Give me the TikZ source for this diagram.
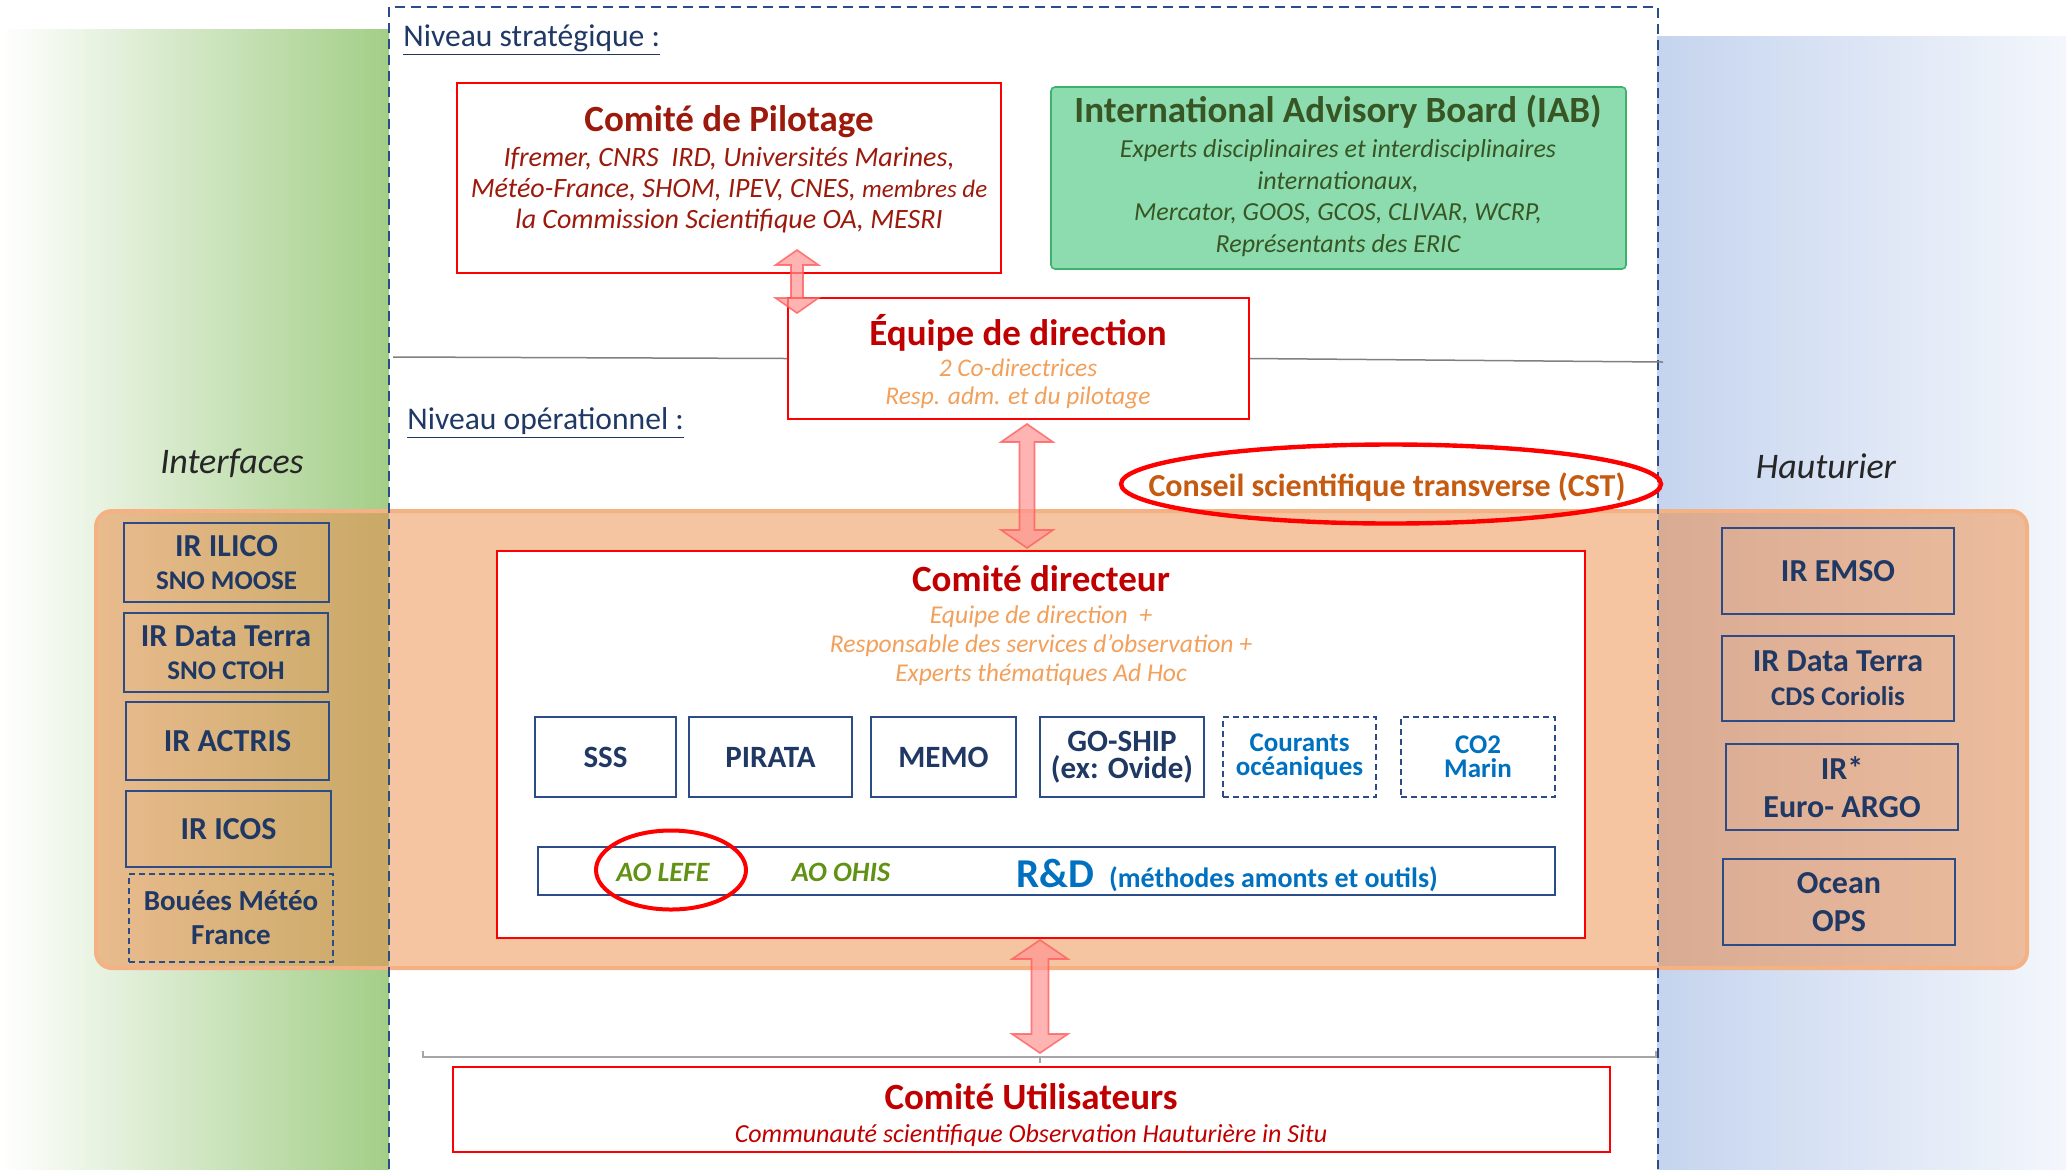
\documentclass[tikz,border=0pt]{standalone}
\usepackage{fontspec}
\setmainfont{Carlito}
\usetikzlibrary{calc,shapes.geometric}

\definecolor{navy}{HTML}{1F3864}
\definecolor{boxnavy}{HTML}{2B4C86}
\definecolor{pilred}{HTML}{9C1A0C}
\definecolor{dred}{HTML}{C00000}
\definecolor{orsub}{HTML}{F2A05A}
\definecolor{cstor}{HTML}{C55A11}
\definecolor{iabfill}{HTML}{8DDCB0}
\definecolor{iabdraw}{HTML}{3DB26B}
\definecolor{iabtxt}{HTML}{375623}
\definecolor{aogreen}{HTML}{619214}
\definecolor{rdblue}{HTML}{0070C0}
\definecolor{bandor}{HTML}{F4B183}
\definecolor{bandC}{HTML}{F5C4A0}
\definecolor{bandLa}{HTML}{E9BB8E}
\definecolor{bandLb}{HTML}{C9A966}
\definecolor{bandRa}{HTML}{D8AB93}
\definecolor{bandRb}{HTML}{EDBC9D}
\definecolor{gleft}{HTML}{A3CE87}
\definecolor{bright}{HTML}{C5D4EE}
\definecolor{arrowfill}{HTML}{FF9494}
\definecolor{arrowdraw}{HTML}{FF5E5E}

\newcommand\fsz[2]{\fontsize{#1}{#2}\selectfont}

\newcommand\blockarrow[5]{%
 \path[barrow] let \p1=#1, \p2=#2 in
  (\x1,\y1) -- (\x1+#3pt,\y1-#4pt) -- (\x1+#5pt,\y1-#4pt) -- (\x1+#5pt,\y2+#4pt)
  -- (\x1+#3pt,\y2+#4pt) -- (\x1,\y2) -- (\x1-#3pt,\y2+#4pt) -- (\x1-#5pt,\y2+#4pt)
  -- (\x1-#5pt,\y1-#4pt) -- (\x1-#3pt,\y1-#4pt) -- cycle;}

\tikzset{
  redbox/.style={draw=red, line width=1pt, fill=white, inner sep=0pt},
  navybox/.style={draw=boxnavy, line width=1.1pt, inner sep=0pt, align=center, text=navy},
  sidebox/.style={navybox, font=\fsz{16}{16.5}\bfseries},
  rowbox/.style={navybox, minimum width=#1, minimum height=40pt, font=\fsz{15.5}{13.5}\bfseries},
  bigtitle/.style={font=\fsz{18.5}{22}\bfseries, inner sep=0pt},
  niv/.style={font=\fsz{15.8}{19}, text=navy, inner sep=0pt},
  side/.style={font=\fsz{18}{22}\itshape, text=black!85, inner sep=0pt},
  ao/.style={font=\fsz{14}{17}\bfseries\itshape, text=aogreen, inner sep=0pt},
  barrow/.style={fill=arrowfill, fill opacity=0.7, draw=arrowdraw, draw opacity=0.8, line width=0.8pt},
  grayline/.style={draw=black!50, line width=0.75pt},
  bracket/.style={draw=black!35, line width=1.2pt},
}

\begin{document}
\begin{tikzpicture}[x=0.5pt,y=-0.5pt]
\useasboundingbox (0,0) rectangle (2066,1169);

% side backgrounds
\shade[left color=white, right color=gleft] (0,29) rectangle (389,1169);
\shade[left color=bright, right color=bright!20] (1657,36) rectangle (2066,1169);

% orange band
\begin{scope}
  \clip[rounded corners=8pt] (96,511) rectangle (2027,968);
  \shade[left color=bandLa, right color=bandLb] (96,511) rectangle (389,968);
  \fill[bandC] (389,511) rectangle (1658,968);
  \shade[left color=bandRa, right color=bandRb] (1658,511) rectangle (2027,968);
\end{scope}
\draw[draw=bandor, line width=2pt, rounded corners=8pt] (96,511) rectangle (2027,968);

% dashed frame
\draw[boxnavy, line width=1.1pt, dash pattern=on 5pt off 3pt] (389,1169) -- (389,7) -- (1658,7) -- (1658,1169);

% level labels
\node[niv, anchor=west] (nstrat) at (403,40) {\underline{Niveau stratégique :}};
\node[niv, anchor=west] (nop) at (407,423) {\underline{Niveau opérationnel :}};
\node[side] (interf) at (232,463) {Interfaces};
\node[side] (haut) at (1826,466) {Hauturier};

% Comite de pilotage
\node[redbox, minimum width=272pt, minimum height=95pt] (pil) at (729,178) {};
\node[bigtitle, text=pilred] (piltitle) at (729,122) {Comité de Pilotage};
\node[align=center, font=\fsz{14}{15.5}\itshape, text=pilred, inner sep=0pt] (pilsub) at (729,190)
  {Ifremer, CNRS\ \ IRD, Universités Marines,\\Météo-France, SHOM, IPEV, CNES, {\fsz{12.5}{15.5}membres de}\\la Commission Scientifique OA, MESRI};

% IAB
\node[draw=iabdraw, fill=iabfill, rounded corners=2pt, line width=0.8pt, inner sep=0pt, minimum width=287.5pt, minimum height=91pt] (iab) at (1338.5,178) {};
\node[bigtitle, text=iabtxt] (iabtitle) at (1338,112) {International Advisory Board (IAB)};
\node[align=center, font=\fsz{13}{15.7}\itshape, text=iabtxt, inner sep=0pt] (iabsub) at (1338,198)
  {Experts disciplinaires et interdisciplinaires\\internationaux,\\Mercator, GOOS, GCOS, CLIVAR, WCRP,\\Représentants des ERIC};

% Equipe de direction
\node[redbox, minimum width=230.5pt, minimum height=60.5pt] (equ) at (1018.5,358.5) {};
\node[bigtitle, text=dred] (equtitle) at (1018,333) {Équipe de direction};
\node[align=center, font=\fsz{12.7}{14}\itshape, text=orsub, inner sep=0pt] (equsub) at (1018,384)
  {2 Co-directrices\\Resp. adm. et du pilotage};

% grey separators
\coordinate (gl) at (393,357);
\coordinate (gr) at (1663,362);
\draw[grayline] (gl) -- (equ.west);
\draw[grayline] (equ.east) -- (gr);

% CST
\node[draw=red, line width=2.2pt, ellipse, inner sep=0pt, minimum width=270pt, minimum height=39.5pt] (cstring) at (1391,484) {};
\node[font=\fsz{16}{19}\bfseries, text=cstor, inner sep=0pt] (cst) at (1387,487) {Conseil scientifique transverse (CST)};

% Comite directeur
\node[redbox, minimum width=544pt, minimum height=193.5pt] (cdir) at (1041,744.5) {};
\node[bigtitle, text=dred] (cdirtitle) at (1041,579) {Comité directeur};
\node[align=center, font=\fsz{12.8}{14.5}\itshape, text=orsub, inner sep=0pt] (cdirsub) at (1041,646)
  {Equipe de direction\ \ +\\Responsable des services d’observation +\\Experts thématiques Ad Hoc};

% services row
\node[rowbox=70.5pt] (sss) at (605.5,757) {SSS};
\node[rowbox=81.5pt] (pirata) at (770.5,757) {PIRATA};
\node[rowbox=72.5pt] (memo) at (943.5,757) {MEMO};
\node[rowbox=82pt] (goship) at (1122,757) {GO-SHIP\\(ex: Ovide)};
\node[rowbox=76.5pt, dash pattern=on 3pt off 2pt, text=rdblue, font=\fsz{13.5}{12}\bfseries] (courants) at (1299.5,757) {Courants\\océaniques};
\node[rowbox=77pt, dash pattern=on 3pt off 2pt, text=rdblue, font=\fsz{13.5}{12}\bfseries] (co2) at (1478,757) {CO2\\Marin};

% R&D
\node[draw=boxnavy, line width=1.1pt, fill=white, inner sep=0pt, minimum width=508.5pt, minimum height=24pt] (rd) at (1046.5,871) {};
\node[ao] (lefe) at (663,872) {AO LEFE};
\node[ao] (ohis) at (841,872) {AO OHIS};
\node[anchor=base west, text=rdblue, font=\bfseries, inner sep=0pt] (rdt) at (1016,887)
  {\fsz{20.5}{24}R\&D\hspace{7.5pt}\fsz{14}{17}(méthodes amonts et outils)};
\node[draw=red, line width=2pt, ellipse, inner sep=0pt, minimum width=75pt, minimum height=39.5pt] (lefering) at (671,870) {};

% left boxes
\node[sidebox, minimum width=102.5pt, minimum height=39.5pt] (ilico) at (226.5,562.5) {IR ILICO\\{\fsz{13.5}{16.5}SNO MOOSE}};
\node[sidebox, minimum width=102pt, minimum height=39.5pt] (dtl) at (226,652.5) {IR Data Terra\\{\fsz{13.5}{16.5}SNO CTOH}};
\node[sidebox, minimum width=101.5pt, minimum height=39pt] (actris) at (227.5,741) {IR ACTRIS};
\node[sidebox, minimum width=102.5pt, minimum height=38pt] (icos) at (228.5,829) {IR ICOS};
\node[sidebox, dash pattern=on 3pt off 2pt, font=\fsz{14.5}{17}\bfseries, minimum width=102pt, minimum height=44pt] (bouees) at (231,918) {Bouées Météo\\France};

% right boxes
\node[sidebox, minimum width=116pt, minimum height=43pt] (emso) at (1838,571) {IR EMSO};
\node[sidebox, font=\fsz{16}{17}\bfseries, minimum width=116pt, minimum height=42.5pt] (dtr) at (1838,678.5) {IR Data Terra\\{\fsz{13.5}{17}CDS Coriolis}};
\node[sidebox, font=\fsz{16}{19}\bfseries, minimum width=116pt, minimum height=43pt] (argo) at (1842,787) {IR*\\Euro- ARGO};
\node[sidebox, font=\fsz{16}{19}\bfseries, minimum width=116pt, minimum height=43pt] (ocean) at (1839,902) {Ocean\\OPS};

% Comite utilisateurs
\node[redbox, minimum width=578.5pt, minimum height=42.5pt] (cu) at (1031.5,1109.5) {};
\node[bigtitle, text=dred] (cutitle) at (1031,1097) {Comité Utilisateurs};
\node[font=\fsz{13}{15}\itshape, text=dred, inner sep=0pt] (cusub) at (1031,1136) {Communauté scientifique Observation Hauturière in Situ};

% bottom bracket line
\coordinate (bl) at (423,1051);
\coordinate (br) at (1656,1051);
\draw[bracket] (bl) -- ++(0,6) -- (1656,1057) -- (br);
\draw[bracket] (1040,1057) -- (1040,1063);

% block arrows
\blockarrow{($(pil.south)+(68,-24)$)}{($(equ.north)+(-221.5,16)$)}{10.75}{7.5}{3}
\blockarrow{($(equ.south)+(8.5,4)$)}{($(cdir.north)+(-14,-2)$)}{13}{9}{3.75}
\blockarrow{($(cdir.south)+(-1,1)$)}{($(cu.north)+(8.5,-13)$)}{14}{9.5}{4.25}

\end{tikzpicture}
\end{document}
